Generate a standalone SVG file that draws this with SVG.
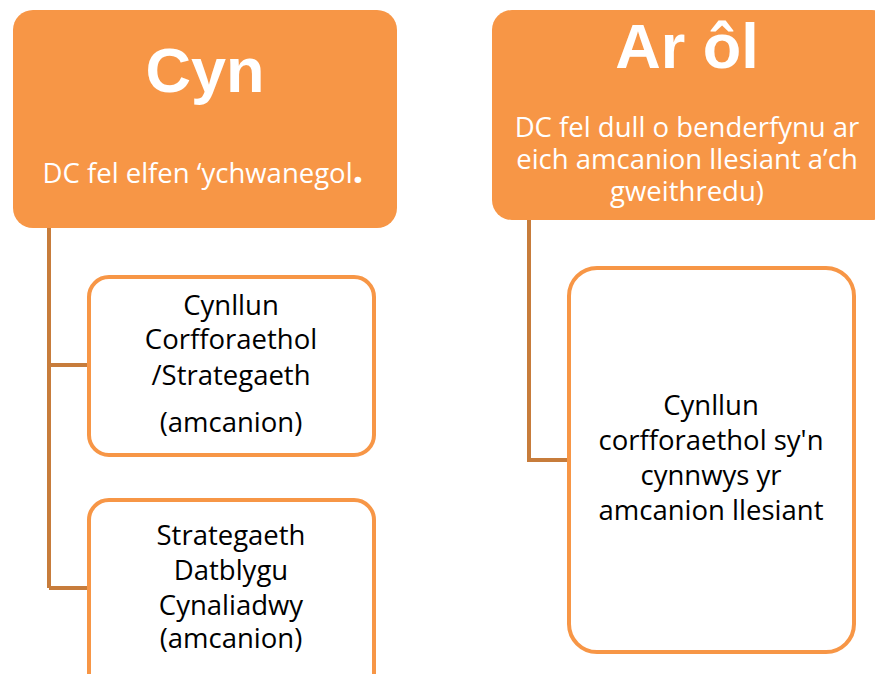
<svg xmlns="http://www.w3.org/2000/svg" width="875" height="674" viewBox="0 0 875 674">
<style>
.head{fill:#F79646}
.child{fill:#FFFFFF;stroke:#F79646;stroke-width:4}
.conn{fill:none;stroke:#C77C3B;stroke-width:4}
.title{font-family:"Liberation Sans",Arial,sans-serif;font-weight:bold;fill:#FFFFFF;text-anchor:middle}
.sub{font-family:"Open Sans","Noto Sans",sans-serif;font-size:27.5px;fill:#FFFFFF;text-anchor:middle}
.body{font-family:"Open Sans","Noto Sans",sans-serif;font-size:27.5px;fill:#000000;text-anchor:middle}
</style>
<rect width="875" height="674" fill="#FFFFFF"/>
<g id="connectors">
<path class="conn" d="M49 228 V588 M49 365 H89 M49 588 H89"/>
<path class="conn" d="M529 220 V460 H569"/>
</g>
<g id="cyn">
<rect class="head" x="13" y="10" width="384" height="218" rx="20"/>
<text class="title" x="205" y="92" font-size="63">Cyn</text>
<text class="sub" x="203" y="183">DC fel elfen ‘ychwanegol<tspan font-size="38" font-weight="bold">.</tspan></text>
</g>
<g id="ar-ol">
<rect class="head" x="492" y="10" width="400" height="210" rx="20"/>
<text class="title" x="687" y="68" font-size="63">Ar ôl</text>
<text class="sub" x="687" y="137">DC fel dull o benderfynu ar</text>
<text class="sub" x="687" y="169">eich amcanion llesiant a’ch</text>
<text class="sub" x="687" y="201">gweithredu)</text>
</g>
<g id="cynllun-corfforaethol">
<rect class="child" x="89" y="277" width="285" height="178" rx="20"/>
<text class="body" x="231" y="315">Cynllun</text>
<text class="body" x="231" y="349">Corfforaethol</text>
<text class="body" x="231" y="385">/Strategaeth</text>
<text class="body" x="231" y="432">(amcanion)</text>
</g>
<g id="strategaeth-datblygu">
<rect class="child" x="89" y="500" width="285" height="200" rx="20"/>
<text class="body" x="231" y="545">Strategaeth</text>
<text class="body" x="231" y="580">Datblygu</text>
<text class="body" x="231" y="615">Cynaliadwy</text>
<text class="body" x="231" y="648">(amcanion)</text>
</g>
<g id="cynllun-llesiant">
<rect class="child" x="569" y="268" width="285" height="384" rx="28"/>
<text class="body" x="711" y="415">Cynllun</text>
<text class="body" x="711" y="450">corfforaethol sy'n</text>
<text class="body" x="711" y="485">cynnwys yr</text>
<text class="body" x="711" y="520">amcanion llesiant</text>
</g>
</svg>
